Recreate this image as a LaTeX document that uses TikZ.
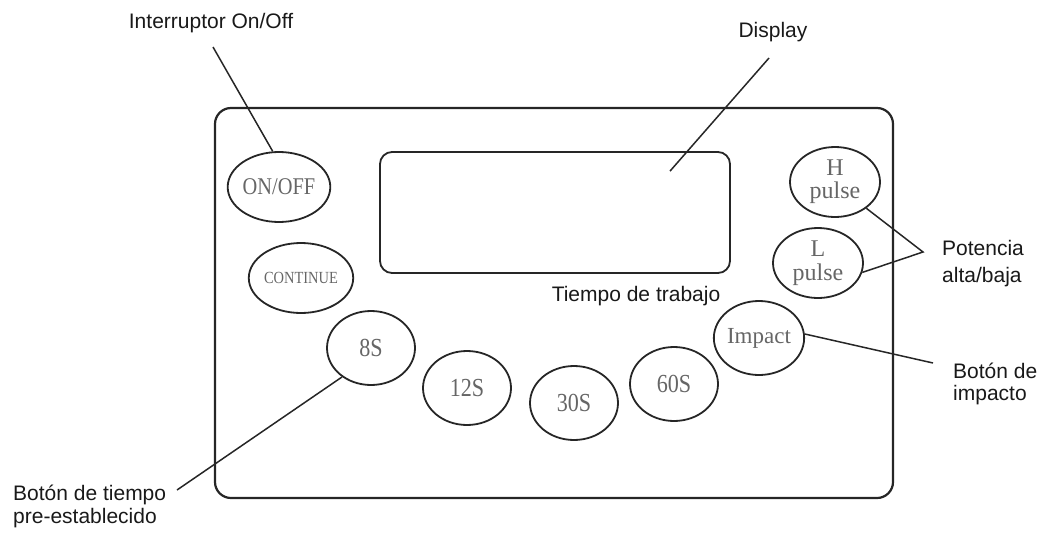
\documentclass[tikz,border=0pt]{standalone}
\usepackage{fontspec}
\setmainfont{Liberation Sans}
\newfontfamily\btnfont{Liberation Serif}
\newfontfamily\btnnarrow[FakeStretch=0.85]{Liberation Serif}
\usepackage{tikz}
\usetikzlibrary{shapes.geometric}

\tikzset{
  panel/.style={line width=2.2pt, draw=black!85, rounded corners=16pt},
  btn/.style={ellipse, draw=black!85, line width=1.8pt, minimum width=88pt,
    minimum height=70pt, inner sep=0pt, text=black!60, align=center,
    font=\btnnarrow\fontsize{26}{26}\selectfont},
  timebtn/.style={btn, minimum height=74pt},
  lbl/.style={inner sep=0pt, text=black!90, align=left,
    font=\fontsize{21}{24}\selectfont},
  callout/.style={line width=1.5pt, draw=black!85}
}

\begin{document}
\begin{tikzpicture}[x=1pt, y=-1pt]
    \useasboundingbox (0,0) rectangle (1042,536);

    % Panel
    \draw[panel] (215,108) rectangle (893,498);
    \node[draw=black!85, line width=1.8pt, rounded corners=12pt,
      minimum width=350pt, minimum height=121pt] (display) at (555,212.5) {};

    % Buttons
    \node[btn, font=\btnnarrow\fontsize{24}{24}\selectfont] (onoff) at (279,187) {ON/OFF};
    \node[btn, font=\btnnarrow\fontsize{17}{17}\selectfont] (continue) at (301,278) {CONTINUE};
    \node[btn, minimum width=90pt, font=\btnfont\fontsize{24}{23}\selectfont] (hpulse) at (835,182) {H\\pulse};
    \node[btn, minimum width=90pt, font=\btnfont\fontsize{24}{24}\selectfont] (lpulse) at (818,263) {L\\pulse};
    \node[timebtn] (s8) at (371,348) {8S};
    \node[timebtn] (s12) at (467,388) {12S};
    \node[timebtn] (s30) at (574,403) {30S};
    \node[timebtn] (s60) at (674,384) {60S};
    \node[timebtn, font=\btnfont\fontsize{23}{23}\selectfont] (impact) at (759,338) {Impact};

    % Labels
    \node[lbl, anchor=base] (lblOnOff) at (211,28) {Interruptor On/Off};
    \node[lbl, anchor=base] (lblDisplay) at (773,37) {Display};
    \node[lbl, anchor=base] (lblTime) at (636,301) {Tiempo de trabajo};
    \node[lbl, anchor=north west] (lblPower) at (942,240) {Potencia\\[3pt]alta/baja};
    \node[lbl, anchor=north west] (lblImpact) at (953,363) {Botón de\\[-2pt]impacto};
    \node[lbl, anchor=north west] (lblPreset) at (13,485) {Botón de tiempo\\[-1pt]pre-establecido};

    % Callout lines
    \coordinate (onoffTip) at (213,47);
    \coordinate (displayTip) at (769,58);
    \coordinate (powerTip) at (923,252);
    \coordinate (impactTip) at (933,363);
    \coordinate (presetTip) at (177,490);
    \draw[callout] (onoffTip) -- (onoff.100);
    \draw[callout] (displayTip) -- ([xshift=115pt, yshift=-20pt]display.north);
    \draw[callout] (hpulse.-40) -- (powerTip) -- (lpulse.-12);
    \draw[callout] (impact.5) -- (impactTip);
    \draw[callout] (presetTip) -- (s8.-135);
\end{tikzpicture}
\end{document}
